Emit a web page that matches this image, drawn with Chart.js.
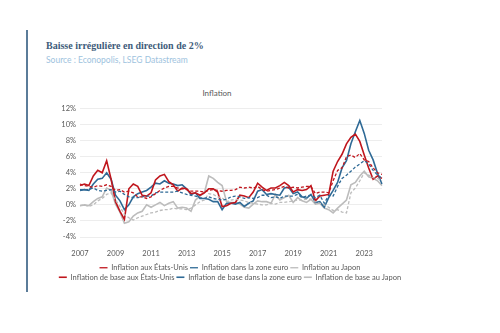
<!DOCTYPE html>
<html>
<head>
<meta charset="utf-8">
<script src="https://cdn.jsdelivr.net/npm/chart.js@4"></script>
<style>
  body { margin: 0; background: #fff; width: 500px; height: 333px; position: relative; overflow: hidden; }
  #barre { position: absolute; left: 26px; top: 30px; width: 2px; height: 262px; background: #5b7c99; }
  #titre { position: absolute; left: 46px; top: 40px; font: bold 10px "Liberation Serif", serif; color: #3e5c7a; }
  #source { position: absolute; left: 46px; top: 55px; font: 8.5px Lato, sans-serif; color: #9ec3de; }
  #titreGraph { position: absolute; left: 167px; width: 100px; top: 88px; text-align: center; font: 8px Lato, sans-serif; color: #595959; }
  #zone { position: absolute; left: 47px; top: 100px; }
</style>
</head>
<body>
<div id="barre"></div>
<div id="titre">Baisse irrégulière en direction de 2%</div>
<div id="source">Source : Econopolis, LSEG Datastream</div>
<div id="titreGraph">Inflation</div>
<div id="zone"><canvas id="graphique" width="366" height="193"></canvas></div>
<script>
// Trimestres (T1 = janvier, T2 = avril, T3 = juillet, T4 = octobre)
const trimestres = [
  'T1 2007','T2 2007','T3 2007','T4 2007','T1 2008','T2 2008','T3 2008','T4 2008',
  'T1 2009','T2 2009','T3 2009','T4 2009','T1 2010','T2 2010','T3 2010','T4 2010',
  'T1 2011','T2 2011','T3 2011','T4 2011','T1 2012','T2 2012','T3 2012','T4 2012',
  'T1 2013','T2 2013','T3 2013','T4 2013','T1 2014','T2 2014','T3 2014','T4 2014',
  'T1 2015','T2 2015','T3 2015','T4 2015','T1 2016','T2 2016','T3 2016','T4 2016',
  'T1 2017','T2 2017','T3 2017','T4 2017','T1 2018','T2 2018','T3 2018','T4 2018',
  'T1 2019','T2 2019','T3 2019','T4 2019','T1 2020','T2 2020','T3 2020','T4 2020',
  'T1 2021','T2 2021','T3 2021','T4 2021','T1 2022','T2 2022','T3 2022','T4 2022',
  'T1 2023','T2 2023','T3 2023','T4 2023','T1 2024'
];
const anneesAffichees = ['2007','2009','2011','2013','2015','2017','2019','2021','2023'];
const graduationsY = [-4, -2, 0, 2, 4, 6, 8, 10, 12];

// lignes en pointillés
const inflationUS = [
  2.6, 2.4, 2.3, 2.2,  2.4, 2.3, 2.5, 2.3,  1.8, 1.9, 1.6, 1.7,  1.5, 1.0, 1.0, 0.8,
  1.0, 1.4, 1.8, 2.1,  2.3, 2.3, 2.1, 2.0,  1.9, 1.7, 1.7, 1.7,  1.6, 1.8, 1.9, 1.8,
  1.7, 1.8, 1.8, 1.9,  2.2, 2.1, 2.2, 2.1,  2.3, 1.9, 1.7, 1.8,  1.9, 2.1, 2.3, 2.1,
  2.2, 2.1, 2.2, 2.3,  2.3, 1.4, 1.6, 1.6,  1.5, 3.0, 4.3, 4.6,  6.0, 6.2, 5.9, 6.4,
  5.6, 5.4, 4.6, 4.0,  3.8
];
const inflationZoneEuro = [
  1.9, 1.9, 1.9, 2.1,  1.8, 1.7, 1.8, 1.9,  1.6, 1.7, 1.3, 1.0,  0.9, 0.9, 1.0, 1.1,
  1.1, 1.5, 1.6, 1.6,  1.6, 1.6, 1.7, 1.5,  1.3, 1.2, 1.1, 0.9,  0.8, 1.0, 0.8, 0.7,
  0.6, 0.7, 1.0, 1.1,  1.0, 0.8, 0.9, 0.8,  0.9, 1.2, 1.2, 0.9,  1.0, 0.8, 1.1, 1.1,
  1.1, 1.3, 0.9, 1.1,  1.2, 0.9, 1.2, 0.2,  1.2, 1.1, 2.3, 3.3,  3.7, 4.2, 4.7, 5.1,
  5.5, 5.1, 4.3, 3.7,  3.3
];
const inflationJapon = [
  -0.1, 0.0, -0.2, 0.0,  0.5, 0.8, 1.3, 1.5,  0.6, -0.2, -1.2, -1.6,  -1.9, -1.6, -1.4, -1.2,
  -1.0, -0.9, -0.7, -0.6,  -0.6, -0.4, -0.5, -0.5,  -0.6, -0.4, 0.0, 0.4,  0.6, 1.4, 1.3, 1.0,
  0.9, 0.4, 0.6, 0.7,  0.6, 0.5, 0.3, 0.2,  0.1, 0.0, 0.0, 0.2,  0.1, 0.3, 0.3, 0.4,
  0.5, 0.6, 0.6, 0.7,  0.7, 0.4, 0.2, 0.0,  -0.3, -0.7, -0.6, -0.9,  -1.0, 1.5, 2.1, 3.0,
  4.0, 3.7, 3.4, 3.3,  3.0
];
// lignes pleines
const inflationBaseUS = [
  2.4, 2.6, 2.4, 3.6,  4.3, 4.0, 5.5, 3.2,  0.4, -0.8, -1.8, 2.0,  2.6, 2.3, 1.2, 1.1,
  1.5, 3.1, 3.6, 3.8,  2.9, 2.5, 1.7, 2.1,  2.0, 1.4, 1.5, 1.2,  1.5, 2.0, 2.0, 1.6,
  -0.2, -0.1, 0.2, 0.3,  1.2, 1.1, 0.9, 1.6,  2.7, 2.2, 1.8, 2.1,  2.1, 2.4, 2.8, 2.4,
  1.6, 1.9, 1.8, 1.9,  2.4, 0.5, 1.1, 1.2,  1.3, 4.2, 5.4, 6.3,  7.6, 8.4, 8.8, 7.9,
  6.2, 4.6, 3.2, 3.6,  3.3
];
const inflationBaseZoneEuro = [
  1.8, 1.9, 1.8, 2.6,  3.2, 3.3, 4.0, 3.2,  1.2, 0.5, -0.6, 0.0,  1.0, 1.4, 1.6, 1.8,
  2.2, 2.7, 2.6, 3.0,  2.7, 2.6, 2.4, 2.5,  2.0, 1.3, 1.5, 0.8,  0.8, 0.7, 0.4, 0.4,
  -0.6, 0.2, 0.2, 0.1,  0.3, -0.2, 0.2, 0.5,  1.7, 1.9, 1.3, 1.4,  1.3, 1.2, 2.1, 2.2,
  1.4, 1.6, 1.0, 0.8,  1.3, 0.3, 0.4, -0.3,  0.9, 1.8, 2.8, 4.6,  5.5, 7.6, 9.1, 10.5,
  8.9, 6.8, 5.6, 3.9,  2.6
];
const inflationBaseJapon = [
  -0.1, 0.0, -0.1, 0.4,  0.8, 1.0, 2.1, 1.8,  0.1, -0.9, -2.3, -2.1,  -1.4, -1.0, -0.8, 0.0,
  -0.3, 0.0, 0.3, -0.1,  0.2, 0.4, -0.4, -0.3,  -0.4, -0.8, 0.6, 1.1,  1.5, 3.6, 3.3, 2.8,
  2.4, 0.4, 0.3, 0.3,  0.1, -0.3, -0.4, 0.1,  0.5, 0.4, 0.4, 0.2,  1.3, 0.6, 0.9, 1.2,
  0.3, 0.9, 0.5, 0.3,  0.7, 0.1, 0.2, -0.4,  -0.6, -1.0, -0.4, 0.1,  0.6, 2.5, 2.8, 3.6,
  4.2, 3.5, 3.3, 3.0,  2.4
];

const rouge = '#c0161d';
const bleu = '#2f6a96';
const gris = '#bcbcbc';
const pointilles = [3, 2];

function serie(label, data, couleur, tirets) {
  return {
    label: label,
    data: data,
    borderColor: couleur,
    backgroundColor: couleur,
    borderWidth: tirets ? 1.3 : 1.6,
    borderDash: tirets ? pointilles : [],
    pointRadius: 0,
    tension: 0,
    fill: false
  };
}

new Chart(document.getElementById('graphique'), {
  type: 'line',
  data: {
    labels: trimestres,
    datasets: [
      serie('Inflation aux États-Unis', inflationUS, rouge, true),
      serie('Inflation dans la zone euro', inflationZoneEuro, bleu, true),
      serie('Inflation au Japon', inflationJapon, gris, true),
      serie('Inflation de base aux États-Unis', inflationBaseUS, rouge, false),
      serie('Inflation de base dans la zone euro', inflationBaseZoneEuro, bleu, false),
      serie('Inflation de base au Japon', inflationBaseJapon, gris, false)
    ]
  },
  options: {
    responsive: false,
    animation: false,
    layout: { padding: { top: 7, left: 0, right: 0, bottom: 2 } },
    plugins: {
      tooltip: { enabled: false },
      legend: {
        position: 'bottom',
        labels: {
          usePointStyle: true,
          pointStyle: 'line',
          pointStyleWidth: 8,
          padding: 2,
          color: '#595959',
          font: { family: 'Lato', size: 7.5 }
        }
      }
    },
    scales: {
      x: {
        grid: { display: false },
        border: { display: false },
        afterFit: function (s) { s.height = 25; },
        ticks: {
          autoSkip: false,
          maxRotation: 0,
          padding: 4,
          color: '#595959',
          font: { family: 'Lato', size: 7.5 },
          callback: function (val) {
            const lbl = this.getLabelForValue(val);
            const annee = lbl.slice(3);
            return lbl.startsWith('T1') && anneesAffichees.includes(annee) ? annee : null;
          }
        }
      },
      y: {
        min: -4,
        max: 12,
        afterFit: function (s) { s.width = 33; },
        afterBuildTicks: function (s) { s.ticks = graduationsY.map(v => ({ value: v })); },
        grid: { color: '#e8e8e8', lineWidth: 0.8, drawTicks: false },
        border: { display: false },
        ticks: {
          padding: 4,
          color: '#595959',
          font: { family: 'Lato', size: 7.5 },
          callback: v => v + '%'
        }
      },
      marge: {
        position: 'right',
        afterFit: function (s) { s.width = 31; },
        grid: { display: false },
        border: { display: false },
        ticks: { display: false }
      }
    }
  }
});
</script>
</body>
</html>
